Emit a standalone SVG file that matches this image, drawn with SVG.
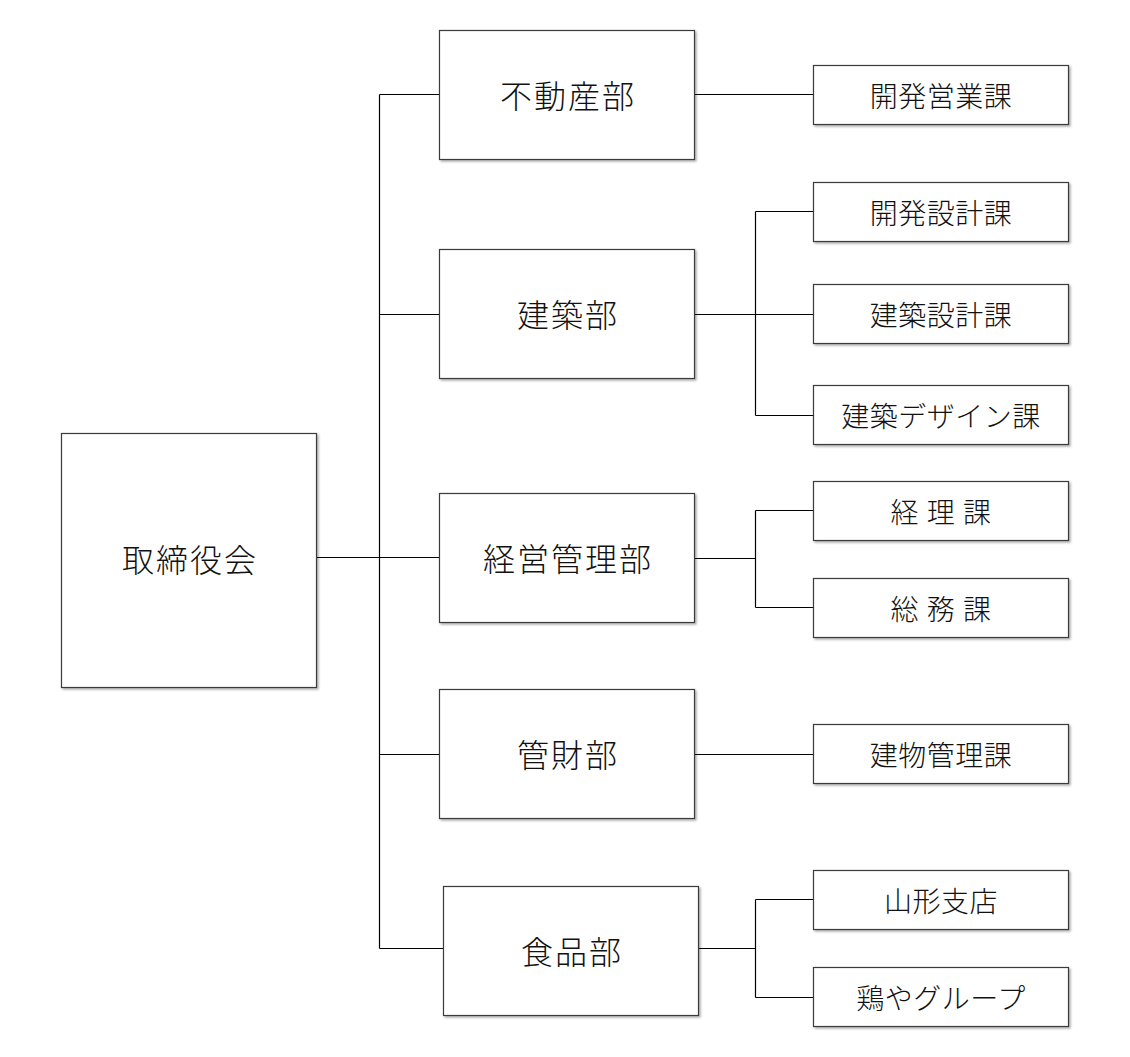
<svg xmlns="http://www.w3.org/2000/svg" width="1130" height="1057" viewBox="0 0 1130 1057">
<defs>
<filter id="sh" x="-5%" y="-5%" width="115%" height="115%">
<feDropShadow dx="1.5" dy="1.5" stdDeviation="1" flood-color="#000" flood-opacity="0.35"/>
</filter>
<style>
.box{fill:#fff;stroke:#3a3a3a;stroke-width:1.2;filter:url(#sh)}
.t{font-family:"Noto Sans CJK JP","Noto Sans CJK SC",sans-serif;font-weight:300;fill:#111;text-anchor:middle;dominant-baseline:central}
.big{font-size:32px;letter-spacing:2px}
.sub{font-size:28px;letter-spacing:0.5px}
.con{fill:none;stroke:#000;stroke-width:1.2}
</style>
</defs>
<rect width="1130" height="1057" fill="#fff"/>
<g id="connectors" class="con">
<path d="M316.5 557.5H379.5M379.5 94.5V948.5"/>
<path d="M379.5 94.5H439.5M379.5 314.5H439.5M379.5 557.5H439.5M379.5 754.5H439.5M379.5 948.5H443.5"/>
<path d="M694.5 94.5H813.5"/>
<path d="M694.5 314.5H813.5M755.5 211.5V415.5M755.5 211.5H813.5M755.5 415.5H813.5"/>
<path d="M694.5 558.5H755.5M755.5 510.5V607.5M755.5 510.5H813.5M755.5 607.5H813.5"/>
<path d="M694.5 754.5H813.5"/>
<path d="M698.5 948.5H755.5M755.5 899.5V997.5M755.5 899.5H813.5M755.5 997.5H813.5"/>
</g>
<g id="board"><rect class="box" x="61.5" y="433.5" width="255" height="254"/><text class="t big" x="190" y="558">取締役会</text></g>
<g id="dept-fudousan"><rect class="box" x="439.5" y="30.5" width="255" height="129"/><text class="t big" x="568" y="94">不動産部</text></g>
<g id="dept-kenchiku"><rect class="box" x="439.5" y="249.5" width="255" height="129"/><text class="t big" x="568" y="313">建築部</text></g>
<g id="dept-keiei"><rect class="box" x="439.5" y="493.5" width="255" height="129"/><text class="t big" x="568" y="557">経営管理部</text></g>
<g id="dept-kanzai"><rect class="box" x="439.5" y="689.5" width="255" height="129"/><text class="t big" x="568" y="753">管財部</text></g>
<g id="dept-shokuhin"><rect class="box" x="443.5" y="886.5" width="255" height="129"/><text class="t big" x="572" y="950">食品部</text></g>
<g id="sec-kaihatsueigyo"><rect class="box" x="813.5" y="65.5" width="255" height="59"/><text class="t sub" x="941" y="94.5">開発営業課</text></g>
<g id="sec-kaihatsusekkei"><rect class="box" x="813.5" y="182.5" width="255" height="59"/><text class="t sub" x="941" y="211.5">開発設計課</text></g>
<g id="sec-kenchikusekkei"><rect class="box" x="813.5" y="284.5" width="255" height="59"/><text class="t sub" x="941" y="313.5">建築設計課</text></g>
<g id="sec-design"><rect class="box" x="813.5" y="385.5" width="255" height="59"/><text class="t sub" x="941" y="414.5">建築デザイン課</text></g>
<g id="sec-keiri"><rect class="box" x="813.5" y="481.5" width="255" height="59"/><text class="t sub" x="941" y="510.5" style="word-spacing:1px">経 理 課</text></g>
<g id="sec-soumu"><rect class="box" x="813.5" y="578.5" width="255" height="59"/><text class="t sub" x="941" y="607.5" style="word-spacing:1px">総 務 課</text></g>
<g id="sec-tatemono"><rect class="box" x="813.5" y="724.5" width="255" height="59"/><text class="t sub" x="941" y="753.5">建物管理課</text></g>
<g id="sec-yamagata"><rect class="box" x="813.5" y="870.5" width="255" height="59"/><text class="t sub" x="941" y="899.5">山形支店</text></g>
<g id="sec-toriya"><rect class="box" x="813.5" y="967.5" width="255" height="59"/><text class="t sub" x="941" y="996.5">鶏やグループ</text></g>
</svg>
